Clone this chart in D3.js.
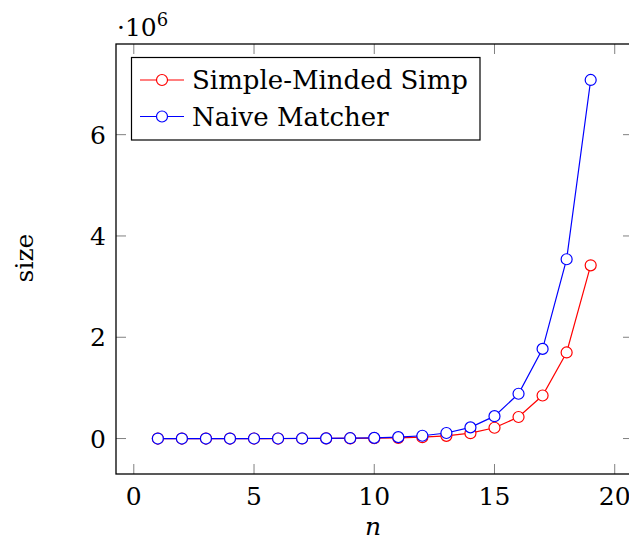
<!DOCTYPE html>
<html>
<head>
<meta charset="utf-8">
<script src="https://cdn.jsdelivr.net/npm/d3@7"></script>
<style>
  body { margin: 0; background: #fff; }
  svg text { font-family: "DejaVu Serif", "Liberation Serif", serif; fill: #000; }
</style>
</head>
<body>
<div id="chart"></div>
<script>
const w = 629, h = 543;

// n values
const nValues = [1, 2, 3, 4, 5, 6, 7, 8, 9, 10, 11, 12, 13, 14, 15, 16, 17, 18, 19];
// sizes
const simpleMinded = [13, 26, 52, 104, 208, 415, 830, 1660, 3300, 6600, 13300, 26600, 53000, 106000, 213000, 425000, 850000, 1700000, 3420000];
const naiveMatcher = [27, 54, 108, 215, 430, 860, 1720, 3450, 6900, 13800, 27600, 55000, 110000, 220000, 442000, 884000, 1770000, 3540000, 7080000];
const seriesNames = ['Simple-Minded Simp', 'Naive Matcher'];
const seriesColors = ['#ff0000', '#0000ff'];
const xTicks = [0, 5, 10, 15, 20];
const yTicks = [0, 2e6, 4e6, 6e6];

const pLeft = 116, pRight = 633, pTop = 44, pBottom = 474;

const svg = d3.select('#chart').append('svg')
  .attr('width', w).attr('height', h);

const xScale = d3.scaleLinear().domain([-0.74, 20.76]).range([pLeft, pRight]);
const yScale = d3.scaleLinear().domain([-0.7e6, 7.79e6]).range([pBottom, pTop]);

// ticks (inside, mirrored)
const tickLen = 10;
const tg = svg.append('g').attr('stroke', '#808080').attr('stroke-width', 1);
xTicks.forEach(t => {
  const x = xScale(t);
  tg.append('line').attr('x1', x).attr('x2', x).attr('y1', pBottom).attr('y2', pBottom - tickLen);
  tg.append('line').attr('x1', x).attr('x2', x).attr('y1', pTop).attr('y2', pTop + tickLen);
});
yTicks.forEach(t => {
  const y = yScale(t);
  tg.append('line').attr('x1', pLeft).attr('x2', pLeft + tickLen).attr('y1', y).attr('y2', y);
  tg.append('line').attr('x1', pRight).attr('x2', pRight - tickLen).attr('y1', y).attr('y2', y);
});

// frame
svg.append('rect')
  .attr('x', pLeft).attr('y', pTop)
  .attr('width', pRight - pLeft).attr('height', pBottom - pTop)
  .attr('fill', 'none').attr('stroke', '#000').attr('stroke-width', 1.3);

// tick labels
svg.append('g').selectAll('text')
  .data(xTicks).enter().append('text')
  .attr('x', d => xScale(d)).attr('y', 505)
  .attr('text-anchor', 'middle').attr('font-size', 25)
  .text(d => d);

svg.append('g').selectAll('text')
  .data(yTicks).enter().append('text')
  .attr('x', 106).attr('y', d => yScale(d) + 9)
  .attr('text-anchor', 'end').attr('font-size', 25)
  .text(d => d / 1e6);

// scale label
const sc = svg.append('text').attr('x', 117).attr('y', 36).attr('font-size', 25);
sc.append('tspan').text('·10');
sc.append('tspan').attr('font-size', 18).attr('dy', -10).text('6');

// axis labels
svg.append('text')
  .attr('x', 373).attr('y', 535)
  .attr('text-anchor', 'middle').attr('font-size', 25)
  .attr('font-style', 'italic')
  .text('n');

svg.append('text')
  .attr('transform', 'translate(33, 258) rotate(-90)')
  .attr('text-anchor', 'middle').attr('font-size', 25)
  .text('size');

// series
const allSeries = [simpleMinded, naiveMatcher];
const line = d3.line().x(d => xScale(d[0])).y(d => yScale(d[1]));

allSeries.forEach((vals, i) => {
  const pts = nValues.map((n, j) => [n, vals[j]]);
  const g = svg.append('g');
  g.append('path')
    .attr('d', line(pts))
    .attr('fill', 'none')
    .attr('stroke', seriesColors[i])
    .attr('stroke-width', 1.2);
  g.selectAll('circle')
    .data(pts).enter().append('circle')
    .attr('cx', d => xScale(d[0]))
    .attr('cy', d => yScale(d[1]))
    .attr('r', 5.5)
    .attr('fill', '#fff')
    .attr('stroke', seriesColors[i])
    .attr('stroke-width', 1.2);
});

// legend
const lg = svg.append('g');
lg.append('rect')
  .attr('x', 131.5).attr('y', 57.5).attr('width', 348.5).attr('height', 82.5)
  .attr('fill', '#fff').attr('stroke', '#000').attr('stroke-width', 1.2);
seriesNames.forEach((name, i) => {
  const y = 80 + i * 36.5;
  lg.append('line')
    .attr('x1', 140).attr('x2', 184).attr('y1', y).attr('y2', y)
    .attr('stroke', seriesColors[i]).attr('stroke-width', 1.2);
  lg.append('circle')
    .attr('cx', 162).attr('cy', y).attr('r', 5.5)
    .attr('fill', '#fff').attr('stroke', seriesColors[i]).attr('stroke-width', 1.2);
  lg.append('text')
    .attr('x', 192).attr('y', y + 9)
    .attr('font-size', 26)
    .text(name);
});
</script>
</body>
</html>
